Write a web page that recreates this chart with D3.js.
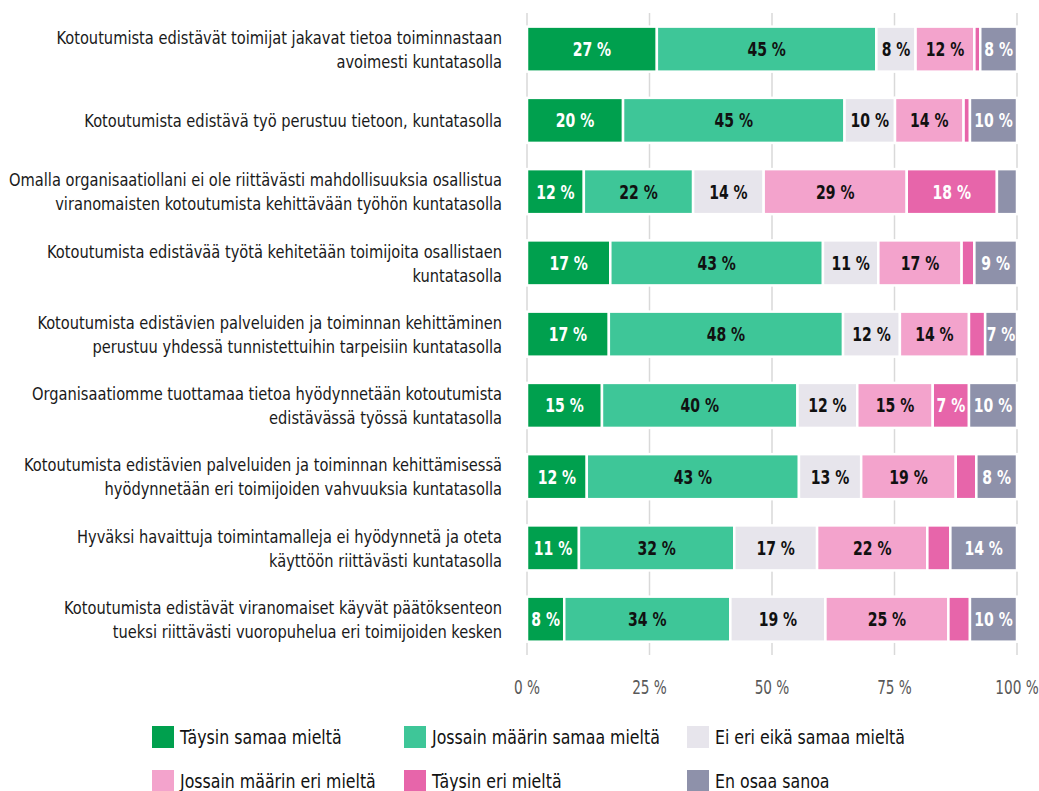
<!DOCTYPE html>
<meta charset="utf-8">
<script src="https://d3js.org/d3.v7.min.js"></script>
<style>
  body { margin: 0; background: #fff; }
  text { font-family: "DejaVu Sans Condensed", "Liberation Sans", sans-serif; }
</style>
<div id="chart"></div>
<script>
  // statements (top to bottom), "|" marks a line break
  const categories = [
    "Kotoutumista edistävät toimijat jakavat tietoa toiminnastaan|avoimesti kuntatasolla",
    "Kotoutumista edistävä työ perustuu tietoon, kuntatasolla",
    "Omalla organisaatiollani ei ole riittävästi mahdollisuuksia osallistua|viranomaisten kotoutumista kehittävään työhön kuntatasolla",
    "Kotoutumista edistävää työtä kehitetään toimijoita osallistaen|kuntatasolla",
    "Kotoutumista edistävien palveluiden ja toiminnan kehittäminen|perustuu yhdessä tunnistettuihin tarpeisiin kuntatasolla",
    "Organisaatiomme tuottamaa tietoa hyödynnetään kotoutumista|edistävässä työssä kuntatasolla",
    "Kotoutumista edistävien palveluiden ja toiminnan kehittämisessä|hyödynnetään eri toimijoiden vahvuuksia kuntatasolla",
    "Hyväksi havaittuja toimintamalleja ei hyödynnetä ja oteta|käyttöön riittävästi kuntatasolla",
    "Kotoutumista edistävät viranomaiset käyvät päätöksenteon|tueksi riittävästi vuoropuhelua eri toimijoiden kesken"
  ];

  const seriesNames = [
    "Täysin samaa mieltä",
    "Jossain määrin samaa mieltä",
    "Ei eri eikä samaa mieltä",
    "Jossain määrin eri mieltä",
    "Täysin eri mieltä",
    "En osaa sanoa"
  ];

  // percentages per series, one value per statement
  const taysinSamaa = [26.5, 19.6, 11.6, 17.0, 16.7, 15.3, 12.2, 10.6, 7.6];
  const jossainSamaa = [44.8, 45.2, 22.3, 43.4, 47.8, 39.9, 43.3, 31.7, 33.9];
  const eiEriEikaSamaa = [8.0, 10.3, 14.4, 11.3, 11.6, 12.2, 12.7, 16.9, 19.4];
  const jossainEri = [12.0, 14.0, 29.2, 17.0, 14.1, 15.4, 19.3, 22.5, 25.1];
  const taysinEri = [1.2, 1.3, 18.4, 2.6, 3.3, 7.4, 4.2, 4.7, 4.4];
  const enOsaa = [7.5, 9.6, 4.1, 8.7, 6.5, 9.8, 8.3, 13.6, 9.6];

  const xTicks = [0, 25, 50, 75, 100];

  const colors = ["#00a04e", "#3ec698", "#e7e5ec", "#f3a3cc", "#e765aa", "#8e91aa"];
  const labelColors = ["#fff", "#111", "#111", "#111", "#fff", "#fff"];

  // the original font is a condensed one, squeeze text horizontally
  const squeeze = 0.88;

  const W = 1039, H = 791;
  const svg = d3.select("#chart").append("svg")
    .attr("width", W)
    .attr("height", H);

  const x = d3.scaleLinear().domain([0, 100]).range([527, 1017]);
  const y = d3.scaleBand()
    .domain(d3.range(categories.length))
    .range([13.5, 654.8])
    .paddingInner(0.368)
    .paddingOuter(0.184);

  // build stacked table
  const allSeries = [taysinSamaa, jossainSamaa, eiEriEikaSamaa, jossainEri, taysinEri, enOsaa];
  const table = categories.map((c, i) => {
    const row = { i: i };
    seriesNames.forEach((s, k) => row[s] = allSeries[k][i]);
    return row;
  });
  const stacked = d3.stack().keys(seriesNames)(table);

  // gridlines
  svg.append("g")
    .selectAll("line")
    .data(xTicks)
    .join("line")
    .attr("x1", d => x(d))
    .attr("x2", d => x(d))
    .attr("y1", 13)
    .attr("y2", 655)
    .attr("stroke", "#d9d9d9")
    .attr("stroke-width", 1.5);

  // bars
  const layer = svg.append("g")
    .selectAll("g")
    .data(stacked)
    .join("g")
    .attr("fill", (d, k) => colors[k]);

  layer.selectAll("rect")
    .data(d => d)
    .join("rect")
    .attr("x", d => x(d[0]))
    .attr("y", d => y(d.data.i))
    .attr("width", d => x(d[1]) - x(d[0]))
    .attr("height", y.bandwidth())
    .attr("stroke", "#fff")
    .attr("stroke-width", 2.5);

  // value labels
  stacked.forEach((s, k) => {
    svg.append("g")
      .selectAll("text")
      .data(s.filter(d => d[1] - d[0] >= 5.5))
      .join("text")
      .attr("transform", d => `translate(${x((d[0] + d[1]) / 2)}, ${y(d.data.i) + y.bandwidth() / 2}) scale(0.8, 1)`)
      .attr("dy", "0.36em")
      .attr("text-anchor", "middle")
      .attr("fill", labelColors[k])
      .style("font-size", "19.5px")
      .style("font-weight", "bold")
      .text(d => Math.round(d[1] - d[0]) + " %");
  });

  // category labels
  const cat = svg.append("g")
    .selectAll("text")
    .data(categories)
    .join("text")
    .attr("text-anchor", "end")
    .attr("fill", "#1a1a1a")
    .style("font-size", "18.5px")
    .attr("transform", (d, i) => `translate(502, ${y(i) + y.bandwidth() / 2}) scale(${squeeze}, 1)`);
  cat.each(function (d) {
    const lines = d.split("|");
    const t = d3.select(this);
    lines.forEach((ln, j) => {
      t.append("tspan")
        .attr("x", 0)
        .attr("y", (j - (lines.length - 1) / 2) * 24)
        .attr("dy", "0.36em")
        .text(ln);
    });
  });

  // x axis labels
  svg.append("g")
    .selectAll("text")
    .data(xTicks)
    .join("text")
    .attr("transform", d => `translate(${x(d)}, 687) scale(0.8, 1)`)
    .attr("dy", "0.36em")
    .attr("text-anchor", "middle")
    .attr("fill", "#595959")
    .style("font-size", "19px")
    .text(d => d + " %");

  // legend
  const legX = [152, 404, 687];
  const legY = [726, 770];
  const leg = svg.append("g")
    .selectAll("g")
    .data(seriesNames)
    .join("g")
    .attr("transform", (d, k) => `translate(${legX[k % 3]}, ${legY[Math.floor(k / 3)]})`);
  leg.append("rect")
    .attr("width", 22)
    .attr("height", 22)
    .attr("fill", (d, k) => colors[k]);
  leg.append("text")
    .attr("transform", `translate(28, 11) scale(0.9, 1)`)
    .attr("dy", "0.36em")
    .attr("fill", "#111")
    .style("font-size", "19.5px")
    .text(d => d);
</script>
